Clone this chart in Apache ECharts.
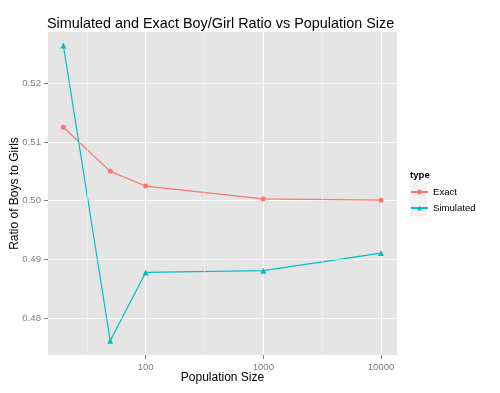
<!DOCTYPE html>
<html>
<head>
<meta charset="utf-8">
<script src="https://cdn.jsdelivr.net/npm/echarts@6/dist/echarts.min.js"></script>
<style>html,body{margin:0;padding:0;background:#fff;}#chart{width:500px;height:393px;}</style>
</head>
<body>
<div id="chart"></div>
<script>
const popSizes = [20, 50, 100, 1000, 10000];
const exactRatio = [0.5125, 0.5050, 0.5025, 0.5003, 0.5001];
const simulatedRatio = [0.5264, 0.4762, 0.4878, 0.4881, 0.4911];
const xTickValues = [100, 1000, 10000];
const yTickValues = [0.48, 0.49, 0.50, 0.51, 0.52];
const xMinorBreaks = [31.62, 316.2, 3162];
const yMinorBreaks = [0.475, 0.485, 0.495, 0.505, 0.515, 0.525];
const seriesNames = ['Exact', 'Simulated'];
const seriesColors = ['#F8766D', '#00BFC4'];

const FONT = '"Liberation Sans", Arial, sans-serif';
const chart = echarts.init(document.getElementById('chart'), null, {renderer: 'canvas'});

const minorLines = [];
xMinorBreaks.forEach(v => minorLines.push({xAxis: v}));
yMinorBreaks.forEach(v => minorLines.push({yAxis: v}));

const option = {
  animation: false,
  backgroundColor: '#ffffff',
  textStyle: {fontFamily: FONT},
  title: [
    {text: 'Simulated and Exact Boy/Girl Ratio vs Population Size', left: 42, top: 12,
     textStyle: {fontFamily: FONT, fontSize: 14.4, fontWeight: 'normal', color: '#000'}},
    {text: 'type', left: 405, top: 165,
     textStyle: {fontFamily: FONT, fontSize: 9.6, fontWeight: 'bold', color: '#000'}}
  ],
  graphic: [
    {type: 'rect', shape: {x: 410, y: 183, width: 17, height: 16.5}, style: {fill: '#F2F2F2'}, z: -1},
    {type: 'rect', shape: {x: 410, y: 200, width: 17, height: 16.5}, style: {fill: '#F2F2F2'}, z: -1}
  ],
  legend: [
    {data: [seriesNames[0]], left: 405, top: 182, itemWidth: 17, itemHeight: 6, itemGap: 0,
     textStyle: {fontFamily: FONT, fontSize: 9.6, color: '#000'}},
    {data: [seriesNames[1]], left: 405, top: 198, itemWidth: 17, itemHeight: 6, itemGap: 0,
     textStyle: {fontFamily: FONT, fontSize: 9.6, color: '#000'}}
  ],
  grid: {left: 48, right: 103, top: 32, bottom: 38, show: true, backgroundColor: '#E5E5E5', borderWidth: 0,
         containLabel: false, outerBoundsMode: 'none'},
  xAxis: {
    type: 'log', logBase: 10, min: 14.8, max: 13680,
    name: 'Population Size', nameLocation: 'middle', nameGap: 17, nameMoveOverlap: false,
    nameTextStyle: {fontFamily: FONT, fontSize: 12, color: '#000'},
    axisLine: {show: false},
    axisTick: {show: true, length: 4, customValues: xTickValues, lineStyle: {color: '#7F7F7F', width: 1}},
    axisLabel: {customValues: xTickValues, margin: 7, fontFamily: FONT, fontSize: 9.6, color: '#7F7F7F',
                formatter: v => String(Math.round(v))},
    splitLine: {show: true, lineStyle: {color: '#ffffff', width: 1.2}}
  },
  yAxis: {
    type: 'value', min: 0.47376, max: 0.5287, scale: true,
    name: 'Ratio of Boys to Girls', nameLocation: 'middle', nameGap: 27, nameRotate: 90, nameMoveOverlap: false,
    nameTextStyle: {fontFamily: FONT, fontSize: 12, color: '#000'},
    axisLine: {show: false},
    axisTick: {show: true, length: 4, customValues: yTickValues, lineStyle: {color: '#7F7F7F', width: 1}},
    axisLabel: {customValues: yTickValues, margin: 7, fontFamily: FONT, fontSize: 9.6, color: '#7F7F7F',
                formatter: v => v.toFixed(2)},
    splitLine: {show: true, lineStyle: {color: '#ffffff', width: 1.2}}
  },
  series: [
    {
      name: 'minor', type: 'line', data: [], silent: true, z: 1,
      markLine: {silent: true, symbol: ['none', 'none'], label: {show: false},
                 lineStyle: {color: '#F2F2F2', width: 0.6, type: 'solid'}, data: minorLines, animation: false}
    },
    {
      name: seriesNames[0], type: 'line', data: popSizes.map((x, i) => [x, exactRatio[i]]),
      symbol: 'circle', symbolSize: 5, color: seriesColors[0],
      lineStyle: {width: 1.2, color: seriesColors[0]}, itemStyle: {color: seriesColors[0]}, z: 3
    },
    {
      name: seriesNames[1], type: 'line', data: popSizes.map((x, i) => [x, simulatedRatio[i]]),
      symbol: 'triangle', symbolSize: 6, color: seriesColors[1],
      lineStyle: {width: 1.2, color: seriesColors[1]}, itemStyle: {color: seriesColors[1]}, z: 3
    }
  ]
};
chart.setOption(option);
</script>
</body>
</html>
